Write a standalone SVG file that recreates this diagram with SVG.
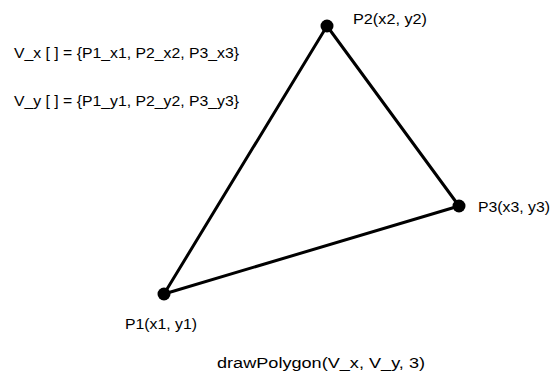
<svg xmlns="http://www.w3.org/2000/svg" width="553" height="375" viewBox="0 0 553 375">
<style>
text{font-family:"Liberation Sans",Arial,sans-serif;font-size:15.5px;fill:#000}
.edge{stroke:#000;stroke-width:3;stroke-linecap:round;fill:none}
.pt{fill:#000}
</style>
<rect width="553" height="375" fill="#fff"/>
<g id="connectors">
<line class="edge" x1="164" y1="294" x2="327" y2="26"/>
<line class="edge" x1="327" y1="26" x2="459" y2="206"/>
<line class="edge" x1="459" y1="206" x2="164" y2="294"/>
</g>
<g id="p1"><circle class="pt" cx="164" cy="294" r="6.5"/><text x="125" y="329" textLength="72" lengthAdjust="spacingAndGlyphs">P1(x1, y1)</text></g>
<g id="p2"><circle class="pt" cx="327" cy="26" r="6.5"/><text x="353" y="24" textLength="74" lengthAdjust="spacingAndGlyphs">P2(x2, y2)</text></g>
<g id="p3"><circle class="pt" cx="459" cy="206" r="6.5"/><text x="478" y="212" textLength="72" lengthAdjust="spacingAndGlyphs">P3(x3, y3)</text></g>
<g id="labels">
<text x="14" y="58" textLength="225" lengthAdjust="spacingAndGlyphs">V_x [ ] = {P1_x1, P2_x2, P3_x3}</text>
<text x="14" y="106" textLength="225" lengthAdjust="spacingAndGlyphs">V_y [ ] = {P1_y1, P2_y2, P3_y3}</text>
<text x="217" y="368" textLength="208" lengthAdjust="spacingAndGlyphs">drawPolygon(V_x, V_y, 3)</text>
</g>
</svg>
